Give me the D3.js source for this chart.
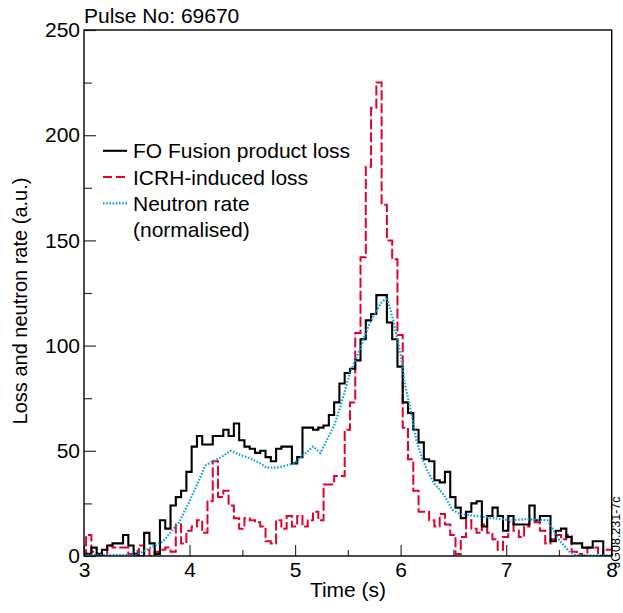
<!DOCTYPE html>
<html>

<head>
  <title>Pulse No 69670 - losses</title>
  <meta charset="utf-8">
  <script src="https://d3js.org/d3.v7.min.js"></script>
  <style>
    body { margin: 0; background: #fff; }
    text { font-family: Arial, "Liberation Sans", sans-serif; fill: #000; }
  </style>
</head>

<body>
  <div id="vis"></div>

<script>
  // histogram bins are 0.05 s wide, the first one starts at 2.97 s
  var binStart = 2.97, binWidth = 0.05;

  var foLoss = [1, 1, 4, 1, 3, 5, 6, 6, 10, 5, 1, 0, 11, 6, 1, 17, 13, 24, 28, 31,
    40, 52, 57, 53, 53, 57, 57, 60, 57, 63, 55, 52, 51, 49, 50, 47, 45, 51, 52, 52,
    44, 47, 61, 61, 60, 61, 62, 67, 73, 82, 87, 89, 93, 103, 112, 115, 124, 124, 111, 103,
    90, 73, 68, 60, 54, 46, 45, 36, 35, 40, 28, 23, 18, 21, 25, 26, 14, 19, 23, 19,
    12, 19, 15, 15, 15, 24, 17, 19, 19, 7, 12, 13, 9, 6, 6, 4, 4, 7, 7, 0, 0];

  var icrhLoss = [1, 10, 2, 0, 0, 5, 4, 4, 4, 1, 0, 5, 3, 0, 2, 3, 4, 2, 15, 6,
    12, 14, 17, 11, 26, 45, 28, 31, 24, 18, 13, 18, 17, 16, 14, 7, 6, 17, 13, 19,
    14, 19, 14, 17, 21, 17, 34, 34, 38, 38, 60, 73, 106, 142, 185, 213, 225, 167, 150, 141,
    105, 61, 46, 31, 21, 21, 17, 14, 20, 15, 10, 1, 9, 17, 13, 11, 15, 11, 8, 3,
    9, 16, 12, 9, 14, 17, 16, 12, 6, 8, 10, 8, 10, 2, 1, 0, 4, 4, 0, 3, 3];

  var neutronT = [3.0, 3.5, 3.75, 3.9, 4.0, 4.08, 4.15, 4.22, 4.3, 4.39, 4.48, 4.57, 4.67, 4.73,
    4.83, 4.92, 4.99, 5.08, 5.17, 5.24, 5.3, 5.37, 5.43, 5.52, 5.62, 5.71, 5.81, 5.87, 5.93,
    6.0, 6.04, 6.1, 6.15, 6.2, 6.25, 6.31, 6.41, 6.49, 6.56, 6.72, 6.88, 7.04, 7.2, 7.39,
    7.43, 7.48, 7.55, 7.61, 7.67, 8.0];
  var neutronV = [0.5, 0.5, 7, 16, 26, 35, 43, 45, 47, 50, 48, 46.5, 44, 42,
    42, 43, 44, 48, 52, 49, 55, 62, 71, 87, 99, 111, 120, 123, 112,
    96, 82, 68, 55, 47, 41, 35, 29, 22, 20, 19, 18, 17, 17.5, 17,
    14, 9, 4.8, 1.4, 0.3, 0.3];

  var xTicks = [3, 4, 5, 6, 7, 8];
  var xMinor = [3.5, 4.5, 5.5, 6.5, 7.5];
  var yTicks = [0, 50, 100, 150, 200, 250];
  var yMinor = [25, 75, 125, 175, 225];

  var legendLabels = ['FO Fusion product loss', 'ICRH-induced loss', 'Neutron rate', '(normalised)'];

  var width = 623, height = 613;
  var margin = { left: 84, right: 11.3, top: 30, bottom: 57 };

  var red = '#e3002d', blue = '#0ca0e4';

  var svg = d3.select('#vis')
    .append('svg')
    .attr('width', width)
    .attr('height', height);

  var x = d3.scaleLinear().domain([3, 8]).range([margin.left, width - margin.right]);
  var y = d3.scaleLinear().domain([0, 250]).range([height - margin.bottom, margin.top]);

  svg.append('clipPath').attr('id', 'plotclip')
    .append('rect')
    .attr('x', x(3)).attr('y', y(250) - 5)
    .attr('width', x(8) - x(3)).attr('height', y(0) - y(250) + 5);

  // step outline of a histogram
  function steps(vals) {
    var pts = vals.map((v, i) => [binStart + i * binWidth, v]);
    pts.push([binStart + vals.length * binWidth, vals[vals.length - 1]]);
    return pts;
  }

  var stepLine = d3.line()
    .x(d => x(d[0]))
    .y(d => y(d[1]))
    .curve(d3.curveStepAfter);

  var plot = svg.append('g').attr('clip-path', 'url(#plotclip)');

  plot.append('path')
    .datum(steps(icrhLoss))
    .attr('d', stepLine)
    .attr('fill', 'none')
    .attr('stroke', red)
    .attr('stroke-width', 2)
    .attr('stroke-dasharray', '10,3');

  plot.append('path')
    .datum(steps(foLoss))
    .attr('d', stepLine)
    .attr('fill', 'none')
    .attr('stroke', '#000')
    .attr('stroke-width', 2.1);

  var neutron = neutronT.map((t, i) => [t, neutronV[i]]);
  plot.append('path')
    .datum(neutron)
    .attr('d', d3.line().x(d => x(d[0])).y(d => y(d[1])))
    .attr('fill', 'none')
    .attr('stroke', blue)
    .attr('stroke-width', 2.2)
    .attr('stroke-dasharray', '1.6,1.6');

  // axes, ticks point inward
  svg.append('g')
    .attr('transform', 'translate(0,' + y(0) + ')')
    .call(d3.axisBottom(x).tickValues(xTicks).tickSizeInner(-11).tickSizeOuter(0).tickPadding(6).tickFormat(d3.format('d')));
  svg.append('g')
    .attr('transform', 'translate(0,' + y(0) + ')')
    .call(d3.axisBottom(x).tickValues(xMinor).tickSizeInner(-6).tickSizeOuter(0).tickFormat(''));

  svg.append('g')
    .attr('transform', 'translate(' + x(3) + ',0)')
    .call(d3.axisLeft(y).tickValues(yTicks).tickSizeInner(-12).tickSizeOuter(0).tickPadding(4));
  svg.append('g')
    .attr('transform', 'translate(' + x(3) + ',0)')
    .call(d3.axisLeft(y).tickValues(yMinor).tickSizeInner(-8).tickSizeOuter(0).tickFormat(''));

  svg.selectAll('.domain').remove();
  svg.selectAll('.tick line').attr('stroke', '#333').attr('stroke-width', 1.2);
  svg.selectAll('.tick text')
    .style('font-size', '21px')
    .style('font-family', 'Arial, "Liberation Sans", sans-serif')
    .attr('fill', '#000');

  svg.append('rect')
    .attr('x', x(3)).attr('y', y(250))
    .attr('width', x(8) - x(3)).attr('height', y(0) - y(250))
    .attr('fill', 'none')
    .attr('stroke', '#000')
    .attr('stroke-width', 1.4);

  svg.append('text')
    .attr('x', 84).attr('y', 22.7)
    .style('font-size', '21px')
    .text('Pulse No: 69670');

  svg.append('text')
    .attr('transform', 'translate(27,301) rotate(-90)')
    .attr('text-anchor', 'middle')
    .style('font-size', '20px')
    .text('Loss and neutron rate (a.u.)');

  svg.append('text')
    .attr('x', 348).attr('y', 597)
    .attr('text-anchor', 'middle')
    .style('font-size', '21px')
    .text('Time (s)');

  svg.append('text')
    .attr('transform', 'translate(619.5,568) rotate(-90)')
    .style('font-size', '12.5px')
    .attr('fill', '#333')
    .text('JG08.231-7c');

  // legend
  var legend = svg.append('g');
  var rowY = [158.3, 184.5, 210.8, 237];
  legend.selectAll('text')
    .data(legendLabels)
    .enter()
    .append('text')
    .attr('x', 133)
    .attr('y', (d, i) => rowY[i])
    .style('font-size', '21px')
    .text(d => d);

  var keys = [
    { color: '#000', dash: null, w: 2.1 },
    { color: red, dash: '9,4', w: 2 },
    { color: blue, dash: '1.6,1.6', w: 2.2 }
  ];
  legend.selectAll('line')
    .data(keys)
    .enter()
    .append('line')
    .attr('x1', 103).attr('x2', 127)
    .attr('y1', (d, i) => rowY[i] - 7.5)
    .attr('y2', (d, i) => rowY[i] - 7.5)
    .attr('stroke', d => d.color)
    .attr('stroke-width', d => d.w)
    .attr('stroke-dasharray', d => d.dash);
</script>
</body>

</html>
